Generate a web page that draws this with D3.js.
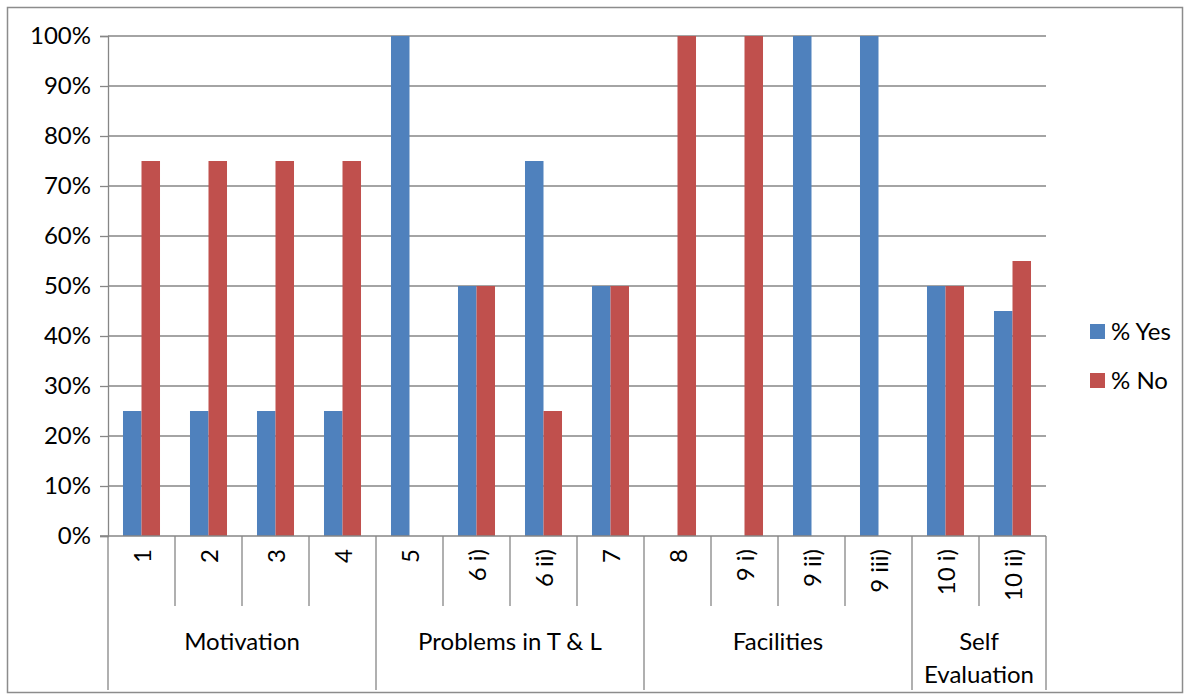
<!DOCTYPE html>
<html>
<head>
<meta charset="utf-8">
<script src="https://cdn.jsdelivr.net/npm/d3@7"></script>
<style>
  body { margin: 0; background: #fff; }
  svg { font-family: "Lato", "Open Sans", sans-serif; }
</style>
</head>
<body>
<svg id="chart" width="1190" height="700"></svg>
<script>
// Survey answers per question, grouped by theme
const categories = ["1", "2", "3", "4", "5", "6 i)", "6 ii)", "7", "8", "9 i)", "9 ii)", "9 iii)", "10 i)", "10 ii)"];
const groups = [
  { name: ["Motivation"], from: 0, to: 4 },
  { name: ["Problems in T & L"], from: 4, to: 8 },
  { name: ["Facilities"], from: 8, to: 12 },
  { name: ["Self", "Evaluation"], from: 12, to: 14 }
];
const yesValues = [25, 25, 25, 25, 100, 50, 75, 50, 0, 0, 100, 100, 50, 45];
const noValues  = [75, 75, 75, 75, 0, 50, 25, 50, 100, 100, 0, 0, 50, 55];
const seriesNames = ["% Yes", "% No"];
const yTicks = [0, 10, 20, 30, 40, 50, 60, 70, 80, 90, 100];

const colors = ["#4F81BD", "#C0504D"];
const gridColor = "#868686";
const fontSize = 24;

const svg = d3.select("#chart");
const plotLeft = 108, plotRight = 1046, plotTop = 36, plotBottom = 536;

// outer frame
svg.append("rect").attr("x", 7.5).attr("y", 7.5).attr("width", 1175).attr("height", 685)
  .attr("fill", "none").attr("stroke", "#8c8c8c").attr("stroke-width", 1.5);

const x = d3.scaleBand().domain(d3.range(categories.length)).range([plotLeft, plotRight]);
const inner = d3.scaleBand().domain([0, 1]).range([0, x.bandwidth()]).paddingOuter(0.81);
const y = d3.scaleLinear().domain([0, 100]).range([plotBottom, plotTop]);

// horizontal gridlines
svg.append("g").selectAll("line").data(yTicks.filter(d => d > 0)).join("line")
  .attr("x1", plotLeft).attr("x2", plotRight)
  .attr("y1", d => y(d)).attr("y2", d => y(d))
  .attr("stroke", gridColor).attr("stroke-width", 1.3);

// y axis
const yAxis = d3.axisLeft(y).tickValues(yTicks).tickFormat(d => d + "%").tickSize(8).tickPadding(9);
const yg = svg.append("g").attr("transform", `translate(${plotLeft},0)`).call(yAxis);
yg.select(".domain").attr("stroke", gridColor).attr("stroke-width", 1.3);
yg.selectAll(".tick line").attr("stroke", gridColor).attr("stroke-width", 1.3);
yg.selectAll(".tick text").attr("font-size", fontSize).attr("fill", "#000").attr("font-family", "Lato");

// bars
const series = [yesValues, noValues];
series.forEach((vals, s) => {
  svg.append("g").selectAll("rect").data(vals).join("rect")
    .attr("x", (d, i) => x(i) + inner(s))
    .attr("width", inner.bandwidth())
    .attr("y", d => y(d))
    .attr("height", d => plotBottom - y(d))
    .attr("fill", colors[s]);
});

// category axis line
svg.append("line").attr("x1", plotLeft - 8).attr("x2", plotRight).attr("y1", plotBottom).attr("y2", plotBottom)
  .attr("stroke", gridColor).attr("stroke-width", 1.3);

// category separators (short) and group separators (long)
const groupEdges = new Set(groups.flatMap(g => [g.from, g.to]));
const edges = d3.range(categories.length + 1);
svg.append("g").selectAll("line").data(edges).join("line")
  .attr("x1", i => i === categories.length ? plotRight : x(i))
  .attr("x2", i => i === categories.length ? plotRight : x(i))
  .attr("y1", plotBottom)
  .attr("y2", i => groupEdges.has(i) ? 690 : 606)
  .attr("stroke", gridColor).attr("stroke-width", 1.3);

// rotated category labels
svg.append("g").selectAll("text").data(categories).join("text")
  .attr("transform", (d, i) => `translate(${x(i) + x.bandwidth() / 2 + 9},549) rotate(-90)`)
  .attr("text-anchor", "end")
  .attr("font-size", fontSize)
  .text(d => d);

// group labels
const gl = svg.append("g").selectAll("text").data(groups).join("text")
  .attr("text-anchor", "middle")
  .attr("font-size", fontSize)
  .attr("transform", g => {
    const cx = (x(g.from) + (g.to === categories.length ? plotRight : x(g.to))) / 2;
    return `translate(${cx},650)`;
  });
gl.selectAll("tspan").data(g => g.name).join("tspan")
  .attr("x", 0).attr("dy", (d, i) => i === 0 ? 0 : 33).text(d => d);

// legend
const legend = svg.append("g").selectAll("g").data(seriesNames).join("g")
  .attr("transform", (d, i) => `translate(1090,${324 + i * 49})`);
legend.append("rect").attr("width", 15).attr("height", 15).attr("fill", (d, i) => colors[i]);
legend.append("text").attr("x", 21).attr("y", 16).attr("font-size", fontSize).text(d => d);
</script>
</body>
</html>
